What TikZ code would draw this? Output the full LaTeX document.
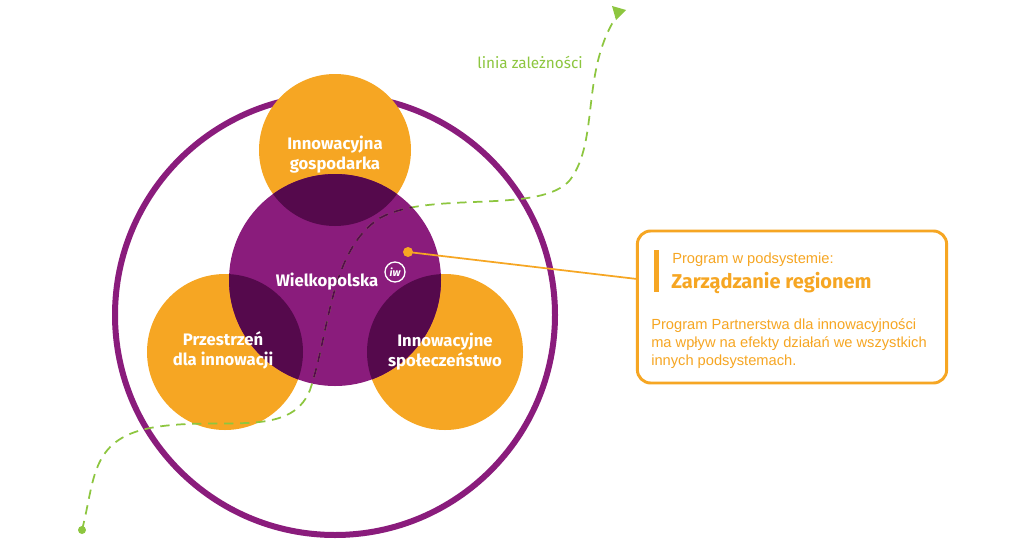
\documentclass[tikz,border=0pt]{standalone}
\usepackage{fontspec}
\setmainfont{Fira Sans}
\newfontfamily\bodyfont{Liberation Sans}
\usetikzlibrary{arrows.meta}
\definecolor{orng}{HTML}{F6A623}
\definecolor{purp}{HTML}{8A1C7C}
\definecolor{dpurp}{HTML}{55094C}
\definecolor{grn}{HTML}{8DC63F}
\tikzset{lbl/.style={text=white,font=\bfseries\fontsize{12.5}{15}\selectfont,align=center},
 dep/.style={dashed,line width=1.3pt,dash pattern=on 7pt off 5pt}}
\begin{document}
\begin{tikzpicture}[x=0.75pt,y=-0.75pt]
\useasboundingbox (0,0) rectangle (1024,557);
\fill[white] (0,0) rectangle (1024,557);
\draw[purp,line width=4.5pt] (335,315) circle (220);
\fill[orng] (335,150) circle (76);
\fill[orng] (225,352) circle (78);
\fill[orng] (445,352) circle (78);
\fill[purp] (335,280) circle (106);
\begin{scope}
\clip (335,280) circle (106);
\fill[dpurp] (335,150) circle (76);
\fill[dpurp] (225,352) circle (78);
\fill[dpurp] (445,352) circle (78);
\end{scope}
\def\curve{(82,530) .. controls (95,480) and (90,440) .. (150,428) .. controls (220,415) and (290,440) .. (310,390) .. controls (330,330) and (330,250) .. (380,218) .. controls (430,190) and (540,215) .. (570,180) .. controls (600,140) and (580,70) .. (618,14)}
\draw[grn,dep] \curve;
\begin{scope}
\clip (335,280) circle (106);
\draw[dpurp,dep] \curve;
\end{scope}
\fill[grn] (82,530) circle (4);
\fill[grn] (612,6) -- (626,10) -- (616,20) -- cycle;
\node[grn,font=\fontsize{11.5}{13}\selectfont] (dl) at (530,62) {linia zależności};
\node[lbl] (t) at (335,155) {Innowacyjna\\gospodarka};
\node[lbl] (l) at (223,350) {Przestrzeń\\dla innowacji};
\node[lbl] (r) at (445,352) {Innowacyjne\\społeczeństwo};
\node[lbl] (w) at (327,282) {Wielkopolska};
\draw[white,line width=1pt,fill=purp] (395,272) circle (10);
\node[text=white,font=\itshape\bfseries\fontsize{8}{8}\selectfont] (logo) at (395,272) {iw};
\node[draw=orng,line width=2.2pt,rounded corners=10pt,minimum width=232pt,minimum height=114pt,inner sep=0] (box) at (792,307) {};
\fill[orng] (654,250) rectangle (659,292);
\node[anchor=west,orng,font=\bodyfont\fontsize{11}{13}\selectfont,inner sep=0] at (672,260) {Program w podsystemie:};
\node[anchor=west,orng,font=\bfseries\fontsize{15}{17}\selectfont,inner sep=0] at (671,283) {Zarządzanie regionem};
\node[anchor=north west,orng,font=\bodyfont\fontsize{11}{13.5}\selectfont,align=left,inner sep=0] at (651,318) {Program Partnerstwa dla innowacyjności\\ma wpływ na efekty działań we wszystkich\\innych podsystemach.};
\coordinate (dot) at (408,252);
\coordinate (bx) at (637,279);
\draw[orng,line width=1.3pt] (dot) -- (bx);
\fill[orng] (dot) circle (5);
\end{tikzpicture}
\end{document}
